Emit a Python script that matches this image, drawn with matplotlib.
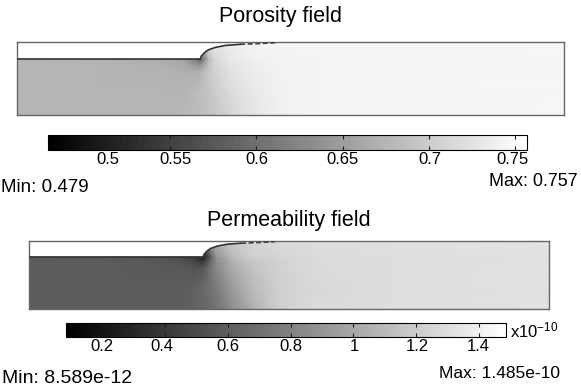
import numpy as np
import matplotlib
import matplotlib.pyplot as plt
from matplotlib.colors import Normalize
from matplotlib.cm import ScalarMappable

plt.rcParams['font.family'] = ['Liberation Sans', 'DejaVu Sans']
plt.rcParams['mathtext.default'] = 'regular'

# sample nodes of the field (fraction of box width / height)
grid_x = [0, 0.15, 0.28, 0.31, 0.32, 0.335, 0.35, 0.36, 0.39, 0.43, 0.48, 0.55, 0.7, 1.0]
grid_y = [0, 0.3, 0.6, 0.70, 0.77, 1.0]

porosity = [
    [0.676, 0.676, 0.676, 0.679, 0.681, 0.684, 0.689, 0.693, 0.710, 0.728, 0.741, 0.745, 0.746, 0.747],
    [0.676, 0.676, 0.676, 0.677, 0.680, 0.686, 0.694, 0.699, 0.717, 0.732, 0.741, 0.744, 0.746, 0.747],
    [0.676, 0.676, 0.673, 0.670, 0.668, 0.672, 0.695, 0.706, 0.725, 0.736, 0.742, 0.745, 0.746, 0.747],
    [0.676, 0.676, 0.670, 0.662, 0.650, 0.630, 0.688, 0.710, 0.728, 0.738, 0.742, 0.745, 0.746, 0.747],
    [0.676, 0.672, 0.664, 0.648, 0.620, 0.585, 0.678, 0.713, 0.732, 0.741, 0.743, 0.745, 0.746, 0.747],
    [0.676, 0.676, 0.676, 0.676, 0.676, 0.676, 0.720, 0.730, 0.738, 0.743, 0.745, 0.746, 0.747, 0.748],
]

# permeability in units of 1e-10
permeability = [
    [0.594, 0.594, 0.594, 0.614, 0.627, 0.647, 0.684, 0.714, 0.860, 1.053, 1.225, 1.285, 1.300, 1.316],
    [0.594, 0.594, 0.594, 0.601, 0.620, 0.662, 0.721, 0.762, 0.930, 1.104, 1.225, 1.270, 1.300, 1.316],
    [0.594, 0.594, 0.576, 0.558, 0.547, 0.570, 0.729, 0.823, 1.018, 1.156, 1.239, 1.285, 1.300, 1.316],
    [0.594, 0.594, 0.558, 0.513, 0.453, 0.380, 0.680, 0.860, 1.053, 1.183, 1.239, 1.285, 1.300, 1.316],
    [0.594, 0.576, 0.524, 0.445, 0.335, 0.235, 0.610, 0.889, 1.104, 1.225, 1.255, 1.285, 1.300, 1.316],
    [0.594, 0.594, 0.594, 0.594, 0.594, 0.594, 0.962, 1.078, 1.183, 1.255, 1.285, 1.300, 1.316, 1.332],
]

# free surface: flat step then the rising curve
step_y = 0.77
curve_x = [0.335, 0.337, 0.342, 0.349, 0.362, 0.380, 0.408, 0.444, 0.472]
curve_y = [0.77, 0.808, 0.849, 0.890, 0.925, 0.952, 0.968, 0.979, 0.99]

por_min, por_max = 0.479, 0.757
por_ticks = [0.5, 0.55, 0.6, 0.65, 0.7, 0.75]
por_labels = ['0.5', '0.55', '0.6', '0.65', '0.7', '0.75']
por_label_shift = [17, 4, 0, 0, 1, -2]   # points, labels sit off their ticks

perm_min, perm_max = 0.08589, 1.485
perm_ticks = [0.2, 0.4, 0.6, 0.8, 1.0, 1.2, 1.4]
perm_labels = ['0.2', '0.4', '0.6', '0.8', '1', '1.2', '1.4']
perm_label_shift = [0, -2, 0, 0, 1, 1, -1]


def draw_field(ax, values, vmin, vmax):
    ax.pcolormesh(grid_x, grid_y, np.array(values), cmap='gray', vmin=vmin, vmax=vmax,
                  shading='gouraud')
    px = [0] + curve_x + [curve_x[-1], 0]
    py = [step_y] + curve_y + [1.0, 1.0]
    ax.fill(px, py, color='white', zorder=2, lw=0)
    ax.plot([0, curve_x[0]], [step_y, step_y], color='0.2', lw=1.2, zorder=3)
    ax.plot(curve_x[:7], curve_y[:7], color='0.2', lw=1.2, zorder=3)
    ax.plot(curve_x[6:], curve_y[6:], color='0.25', lw=1.2, ls=(0, (3, 1.5)), zorder=3)
    ax.set_xlim(0, 1)
    ax.set_ylim(0, 1)
    ax.set_xticks([])
    ax.set_yticks([])
    for s in ax.spines.values():
        s.set_color('0.4')
        s.set_linewidth(1)


def draw_bar(cax, vmin, vmax, ticks, labels, shifts):
    cmap = matplotlib.colormaps['gray'].resampled(90)
    cb = fig.colorbar(ScalarMappable(Normalize(vmin, vmax), cmap), cax=cax,
                      orientation='horizontal', ticks=ticks)
    cb.outline.set_linewidth(0.8)
    cax.xaxis.set_ticks_position('both')
    cax.tick_params(direction='in', length=3, width=0.8, color='0.1',
                    labeltop=False, labelbottom=False)
    for t, lab, dx in zip(ticks, labels, shifts):
        cax.annotate(lab, xy=(t, 0), xycoords=('data', 'axes fraction'),
                     xytext=(dx, -1.5), textcoords='offset points',
                     ha='center', va='top', fontsize=12)
    return cb


fig = plt.figure(figsize=(5.81, 3.91), dpi=100)

ax1 = fig.add_axes([0.0293, 0.7059, 0.9415, 0.1867])
draw_field(ax1, porosity, por_min, por_max)
fig.text(0.482, 0.957, 'Porosity field', ha='center', va='center', fontsize=15.5)

cax1 = fig.add_axes([0.0826, 0.6164, 0.8244, 0.0384])
draw_bar(cax1, por_min, por_max, por_ticks, por_labels, por_label_shift)
fig.text(0.002, 0.52, 'Min: 0.479', ha='left', va='center', fontsize=13.5)
fig.text(0.995, 0.537, 'Max: 0.757', ha='right', va='center', fontsize=13)

ax2 = fig.add_axes([0.0499, 0.2097, 0.895, 0.1739])
draw_field(ax2, permeability, perm_min, perm_max)
fig.text(0.497, 0.437, 'Permeability field', ha='center', va='center', fontsize=15.5)

cax2 = fig.add_axes([0.1136, 0.1381, 0.7573, 0.0358])
draw_bar(cax2, perm_min, perm_max, perm_ticks, perm_labels, perm_label_shift)
cax2.text(1.008, 0.45, r'x10$^{-10}$', transform=cax2.transAxes, ha='left', va='center',
          fontsize=12)
fig.text(0.004, 0.033, 'Min: 8.589e-12', ha='left', va='center', fontsize=14)
fig.text(0.963, 0.046, 'Max: 1.485e-10', ha='right', va='center', fontsize=12.5)

fig.savefig('out.png', dpi=100)
